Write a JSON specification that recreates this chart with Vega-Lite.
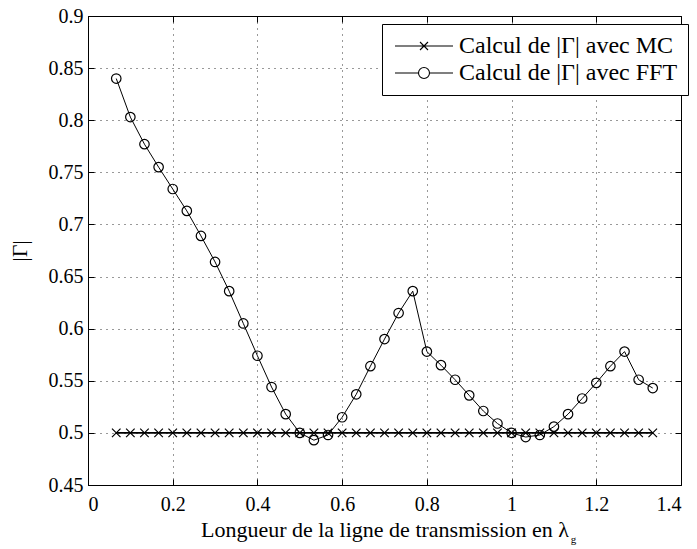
{
  "$schema": "https://vega.github.io/schema/vega-lite/v6.json",
  "width": 593,
  "height": 469,
  "autosize": {"type": "none"},
  "padding": {"left": 88, "top": 16, "right": 16, "bottom": 64},
  "background": "white",
  "config": {
    "view": {"stroke": "#000", "strokeWidth": 1},
    "font": "Liberation Serif",
    "axis": {
      "labelFont": "Liberation Serif", "titleFont": "Liberation Serif",
      "labelColor": "#000", "titleColor": "#000",
      "labelFontSize": 20, "titleFontSize": 22, "titleFontWeight": "normal",
      "domainColor": "#000", "tickColor": "#000",
      "gridColor": "#000", "gridDash": [1, 5], "gridOpacity": 0.8, "gridWidth": 1
    }
  },
  "data": {
    "values": [
      {"L": 0.0667, "s": "Calcul de |Γ| avec MC", "G": 0.5},
      {"L": 0.1, "s": "Calcul de |Γ| avec MC", "G": 0.5},
      {"L": 0.1333, "s": "Calcul de |Γ| avec MC", "G": 0.5},
      {"L": 0.1667, "s": "Calcul de |Γ| avec MC", "G": 0.5},
      {"L": 0.2, "s": "Calcul de |Γ| avec MC", "G": 0.5},
      {"L": 0.2333, "s": "Calcul de |Γ| avec MC", "G": 0.5},
      {"L": 0.2667, "s": "Calcul de |Γ| avec MC", "G": 0.5},
      {"L": 0.3, "s": "Calcul de |Γ| avec MC", "G": 0.5},
      {"L": 0.3333, "s": "Calcul de |Γ| avec MC", "G": 0.5},
      {"L": 0.3667, "s": "Calcul de |Γ| avec MC", "G": 0.5},
      {"L": 0.4, "s": "Calcul de |Γ| avec MC", "G": 0.5},
      {"L": 0.4333, "s": "Calcul de |Γ| avec MC", "G": 0.5},
      {"L": 0.4667, "s": "Calcul de |Γ| avec MC", "G": 0.5},
      {"L": 0.5, "s": "Calcul de |Γ| avec MC", "G": 0.5},
      {"L": 0.5333, "s": "Calcul de |Γ| avec MC", "G": 0.5},
      {"L": 0.5667, "s": "Calcul de |Γ| avec MC", "G": 0.5},
      {"L": 0.6, "s": "Calcul de |Γ| avec MC", "G": 0.5},
      {"L": 0.6333, "s": "Calcul de |Γ| avec MC", "G": 0.5},
      {"L": 0.6667, "s": "Calcul de |Γ| avec MC", "G": 0.5},
      {"L": 0.7, "s": "Calcul de |Γ| avec MC", "G": 0.5},
      {"L": 0.7333, "s": "Calcul de |Γ| avec MC", "G": 0.5},
      {"L": 0.7667, "s": "Calcul de |Γ| avec MC", "G": 0.5},
      {"L": 0.8, "s": "Calcul de |Γ| avec MC", "G": 0.5},
      {"L": 0.8333, "s": "Calcul de |Γ| avec MC", "G": 0.5},
      {"L": 0.8667, "s": "Calcul de |Γ| avec MC", "G": 0.5},
      {"L": 0.9, "s": "Calcul de |Γ| avec MC", "G": 0.5},
      {"L": 0.9333, "s": "Calcul de |Γ| avec MC", "G": 0.5},
      {"L": 0.9667, "s": "Calcul de |Γ| avec MC", "G": 0.5},
      {"L": 1.0, "s": "Calcul de |Γ| avec MC", "G": 0.5},
      {"L": 1.0333, "s": "Calcul de |Γ| avec MC", "G": 0.5},
      {"L": 1.0667, "s": "Calcul de |Γ| avec MC", "G": 0.5},
      {"L": 1.1, "s": "Calcul de |Γ| avec MC", "G": 0.5},
      {"L": 1.1333, "s": "Calcul de |Γ| avec MC", "G": 0.5},
      {"L": 1.1667, "s": "Calcul de |Γ| avec MC", "G": 0.5},
      {"L": 1.2, "s": "Calcul de |Γ| avec MC", "G": 0.5},
      {"L": 1.2333, "s": "Calcul de |Γ| avec MC", "G": 0.5},
      {"L": 1.2667, "s": "Calcul de |Γ| avec MC", "G": 0.5},
      {"L": 1.3, "s": "Calcul de |Γ| avec MC", "G": 0.5},
      {"L": 1.3333, "s": "Calcul de |Γ| avec MC", "G": 0.5},
      {"L": 0.0667, "s": "Calcul de |Γ| avec FFT", "G": 0.840},
      {"L": 0.1, "s": "Calcul de |Γ| avec FFT", "G": 0.803},
      {"L": 0.1333, "s": "Calcul de |Γ| avec FFT", "G": 0.777},
      {"L": 0.1667, "s": "Calcul de |Γ| avec FFT", "G": 0.755},
      {"L": 0.2, "s": "Calcul de |Γ| avec FFT", "G": 0.734},
      {"L": 0.2333, "s": "Calcul de |Γ| avec FFT", "G": 0.713},
      {"L": 0.2667, "s": "Calcul de |Γ| avec FFT", "G": 0.689},
      {"L": 0.3, "s": "Calcul de |Γ| avec FFT", "G": 0.664},
      {"L": 0.3333, "s": "Calcul de |Γ| avec FFT", "G": 0.636},
      {"L": 0.3667, "s": "Calcul de |Γ| avec FFT", "G": 0.605},
      {"L": 0.4, "s": "Calcul de |Γ| avec FFT", "G": 0.574},
      {"L": 0.4333, "s": "Calcul de |Γ| avec FFT", "G": 0.544},
      {"L": 0.4667, "s": "Calcul de |Γ| avec FFT", "G": 0.518},
      {"L": 0.5, "s": "Calcul de |Γ| avec FFT", "G": 0.500},
      {"L": 0.5333, "s": "Calcul de |Γ| avec FFT", "G": 0.493},
      {"L": 0.5667, "s": "Calcul de |Γ| avec FFT", "G": 0.498},
      {"L": 0.6, "s": "Calcul de |Γ| avec FFT", "G": 0.515},
      {"L": 0.6333, "s": "Calcul de |Γ| avec FFT", "G": 0.537},
      {"L": 0.6667, "s": "Calcul de |Γ| avec FFT", "G": 0.564},
      {"L": 0.7, "s": "Calcul de |Γ| avec FFT", "G": 0.590},
      {"L": 0.7333, "s": "Calcul de |Γ| avec FFT", "G": 0.615},
      {"L": 0.7667, "s": "Calcul de |Γ| avec FFT", "G": 0.636},
      {"L": 0.8, "s": "Calcul de |Γ| avec FFT", "G": 0.578},
      {"L": 0.8333, "s": "Calcul de |Γ| avec FFT", "G": 0.565},
      {"L": 0.8667, "s": "Calcul de |Γ| avec FFT", "G": 0.551},
      {"L": 0.9, "s": "Calcul de |Γ| avec FFT", "G": 0.536},
      {"L": 0.9333, "s": "Calcul de |Γ| avec FFT", "G": 0.521},
      {"L": 0.9667, "s": "Calcul de |Γ| avec FFT", "G": 0.509},
      {"L": 1.0, "s": "Calcul de |Γ| avec FFT", "G": 0.500},
      {"L": 1.0333, "s": "Calcul de |Γ| avec FFT", "G": 0.496},
      {"L": 1.0667, "s": "Calcul de |Γ| avec FFT", "G": 0.498},
      {"L": 1.1, "s": "Calcul de |Γ| avec FFT", "G": 0.506},
      {"L": 1.1333, "s": "Calcul de |Γ| avec FFT", "G": 0.518},
      {"L": 1.1667, "s": "Calcul de |Γ| avec FFT", "G": 0.533},
      {"L": 1.2, "s": "Calcul de |Γ| avec FFT", "G": 0.548},
      {"L": 1.2333, "s": "Calcul de |Γ| avec FFT", "G": 0.564},
      {"L": 1.2667, "s": "Calcul de |Γ| avec FFT", "G": 0.578},
      {"L": 1.3, "s": "Calcul de |Γ| avec FFT", "G": 0.551},
      {"L": 1.3333, "s": "Calcul de |Γ| avec FFT", "G": 0.543}
    ]
  },
  "layer": [
    {
      "transform": [{"filter": "datum.s === 'Calcul de |Γ| avec MC'"}],
      "mark": {"type": "line", "color": "#000", "strokeWidth": 1.7},
      "encoding": {
        "x": {
          "field": "L", "type": "quantitative",
          "scale": {"domain": [0, 1.4], "nice": false, "zero": false},
          "axis": {
            "orient": "bottom", "values": [0, 0.2, 0.4, 0.6, 0.8, 1, 1.2, 1.4],
            "format": ".1~f", "title": "Longueur de la ligne de transmission en λ",
            "grid": true, "tickSize": -6, "labelPadding": 15, "titlePadding": 5, "domain": false
          }
        },
        "y": {
          "field": "G", "type": "quantitative",
          "scale": {"domain": [0.45, 0.9], "nice": false, "zero": false},
          "axis": {
            "orient": "left", "values": [0.45, 0.5, 0.55, 0.6, 0.65, 0.7, 0.75, 0.8, 0.85, 0.9],
            "format": ".2~f", "title": "|Γ|",
            "grid": true, "tickSize": -6, "labelPadding": 11, "titlePadding": 17, "domain": false
          }
        }
      }
    },
    {
      "transform": [{"filter": "datum.s === 'Calcul de |Γ| avec FFT'"}],
      "mark": {"type": "line", "color": "#000", "strokeWidth": 1},
      "encoding": {
        "x": {"field": "L", "type": "quantitative", "scale": {"domain": [0, 1.4], "nice": false, "zero": false}, "axis": null},
        "y": {"field": "G", "type": "quantitative", "scale": {"domain": [0.45, 0.9], "nice": false, "zero": false}, "axis": null}
      }
    },
    {
      "mark": {"type": "point", "filled": false, "color": "#000", "size": 90, "strokeWidth": 1.2, "opacity": 1},
      "encoding": {
        "x": {
          "field": "L", "type": "quantitative",
          "scale": {"domain": [0, 1.4], "nice": false, "zero": false},
          "axis": {
            "orient": "top", "values": [0, 0.2, 0.4, 0.6, 0.8, 1, 1.2, 1.4],
            "labels": false, "title": null, "grid": false, "domain": false, "tickSize": -6
          }
        },
        "y": {
          "field": "G", "type": "quantitative",
          "scale": {"domain": [0.45, 0.9], "nice": false, "zero": false},
          "axis": {
            "orient": "right", "values": [0.45, 0.5, 0.55, 0.6, 0.65, 0.7, 0.75, 0.8, 0.85, 0.9],
            "labels": false, "title": null, "grid": false, "domain": false, "tickSize": -6
          }
        },
        "shape": {
          "field": "s", "type": "nominal",
          "scale": {
            "domain": ["Calcul de |Γ| avec MC", "Calcul de |Γ| avec FFT"],
            "range": ["M-0.9,-0.9L0.9,0.9M-0.9,0.9L0.9,-0.9", "circle"]
          },
          "legend": null
        }
      }
    },
    {
      "transform": [{"filter": "false"}],
      "mark": {"type": "point", "filled": false, "color": "#000", "strokeWidth": 1.1},
      "encoding": {
        "x": {"field": "L", "type": "quantitative", "scale": {"domain": [0, 1.4], "nice": false, "zero": false}, "axis": null},
        "y": {"field": "G", "type": "quantitative", "scale": {"domain": [0.45, 0.9], "nice": false, "zero": false}, "axis": null},
        "shape": {
          "field": "s", "type": "nominal",
          "scale": {
            "domain": ["Calcul de |Γ| avec MC", "Calcul de |Γ| avec FFT"],
            "range": [
              "M-5.8,0L5.8,0M-0.8,-0.8L0.8,0.8M-0.8,0.8L0.8,-0.8",
              "M-5.8,0L-1.1,0A1.1,1.1,0,1,0,1.1,0A1.1,1.1,0,1,0,-1.1,0M1.1,0L5.8,0"
            ]
          },
          "legend": {
            "title": null, "orient": "none", "legendX": 294, "legendY": 8,
            "symbolSize": 100, "symbolOffset": 20, "symbolStrokeColor": "#000", "symbolFillColor": "transparent",
            "symbolStrokeWidth": 1.1, "symbolOpacity": 1,
            "labelFont": "Liberation Serif", "labelFontSize": 24, "labelColor": "#000",
            "labelOffset": 23, "strokeColor": "#000", "fillColor": "#fff",
            "padding": 10, "rowPadding": 3, "labelLimit": 400
          }
        }
      }
    },
    {
      "data": {"values": [{}]},
      "mark": {"type": "text", "text": "g", "font": "Liberation Serif", "fontSize": 11, "color": "#000", "baseline": "alphabetic", "align": "left"},
      "encoding": {
        "x": {"datum": 1.14, "type": "quantitative", "scale": {"domain": [0, 1.4], "nice": false, "zero": false}, "axis": null},
        "y": {"datum": 0.3944, "type": "quantitative", "scale": {"domain": [0.45, 0.9], "nice": false, "zero": false}, "axis": null}
      }
    }
  ],
  "resolve": {
    "axis": {"x": "independent", "y": "independent"},
    "scale": {"shape": "independent"}
  }
}
